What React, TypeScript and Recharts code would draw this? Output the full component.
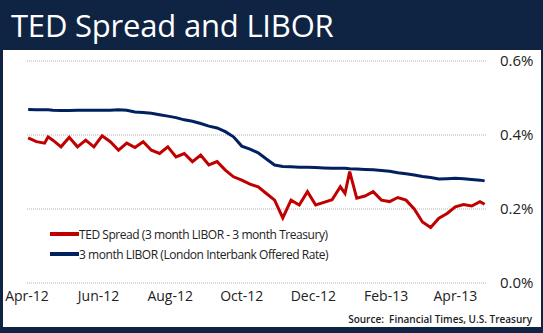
import { LineChart, Line, XAxis, YAxis, CartesianGrid } from 'recharts';

const DATES = [
  '2012-04-02', '2012-04-09', '2012-04-16', '2012-04-19', '2012-04-23', '2012-04-30',
  '2012-05-07', '2012-05-14', '2012-05-21', '2012-05-28', '2012-06-04', '2012-06-11',
  '2012-06-18', '2012-06-25', '2012-07-02', '2012-07-09', '2012-07-16', '2012-07-23',
  '2012-07-30', '2012-08-06', '2012-08-13', '2012-08-20', '2012-08-27', '2012-09-03',
  '2012-09-10', '2012-09-17', '2012-09-24', '2012-10-01', '2012-10-08', '2012-10-15',
  '2012-10-22', '2012-10-29', '2012-11-05', '2012-11-12', '2012-11-19', '2012-11-26',
  '2012-12-03', '2012-12-10', '2012-12-17', '2012-12-24', '2012-12-28', '2013-01-01',
  '2013-01-07', '2013-01-14', '2013-01-21', '2013-01-28', '2013-02-04', '2013-02-11',
  '2013-02-18', '2013-02-25', '2013-03-04', '2013-03-11', '2013-03-18', '2013-03-25',
  '2013-04-01', '2013-04-08', '2013-04-15', '2013-04-22', '2013-04-26',
];

// percent values
const TED = [
  0.392, 0.382, 0.378, 0.395, 0.386, 0.368,
  0.394, 0.368, 0.386, 0.368, 0.398, 0.382,
  0.359, 0.378, 0.366, 0.382, 0.359, 0.350,
  0.368, 0.341, 0.350, 0.328, 0.346, 0.319,
  0.328, 0.305, 0.287, 0.278, 0.267, 0.260,
  0.242, 0.224, 0.176, 0.224, 0.211, 0.247,
  0.211, 0.218, 0.225, 0.260, 0.242, 0.301,
  0.229, 0.235, 0.247, 0.224, 0.220, 0.231,
  0.224, 0.200, 0.165, 0.150, 0.175, 0.188,
  0.206, 0.212, 0.208, 0.220, 0.213,
];

const LIBOR = [
  0.469, 0.468, 0.468, 0.468, 0.467, 0.466,
  0.466, 0.467, 0.467, 0.467, 0.467, 0.467,
  0.468, 0.467, 0.462, 0.461, 0.459, 0.455,
  0.451, 0.447, 0.441, 0.437, 0.431, 0.424,
  0.419, 0.409, 0.395, 0.370, 0.362, 0.352,
  0.335, 0.319, 0.315, 0.314, 0.313, 0.313,
  0.312, 0.311, 0.310, 0.310, 0.310, 0.309,
  0.308, 0.307, 0.306, 0.304, 0.302, 0.298,
  0.295, 0.292, 0.288, 0.285, 0.281, 0.282,
  0.283, 0.282, 0.280, 0.278, 0.276,
];

const TICK_DATES = ['2012-04-01', '2012-06-01', '2012-08-01', '2012-10-01', '2012-12-01', '2013-02-01', '2013-04-01'];
const TICK_LABELS = ['Apr-12', 'Jun-12', 'Aug-12', 'Oct-12', 'Dec-12', 'Feb-13', 'Apr-13'];
const Y_TICKS = [0, 0.2, 0.4, 0.6];

const START = Date.UTC(2012, 3, 1);
const toDay = (s: string) => {
  const [y, m, d] = s.split('-').map(Number);
  return Math.round((Date.UTC(y, m - 1, d) - START) / 86400000);
};

const data = DATES.map((d, i) => ({ day: toDay(d), ted: TED[i], libor: LIBOR[i] }));
const xTicks = TICK_DATES.map(toDay);

const RED = '#c00000';
const BLUE = '#002060';
const FONT = '"Open Sans", Calibri, sans-serif';

function LegendBox() {
  const row = (color: string, text: string) => (
    <div style={{ display: 'flex', alignItems: 'center', height: 20 }}>
      <div style={{ width: 29, height: 4, background: color }} />
      <span style={{ fontSize: 12, color: '#222', letterSpacing: -0.45 }}>{text}</span>
    </div>
  );
  return (
    <div style={{ position: 'absolute', left: 50, top: 224, fontFamily: FONT, whiteSpace: 'nowrap' }}>
      {row(RED, 'TED Spread (3 month LIBOR - 3 month Treasury)')}
      {row(BLUE, '3 month LIBOR (London Interbank Offered Rate)')}
    </div>
  );
}

export default function App() {
  return (
    <div style={{ position: 'relative', width: 543, height: 333, background: '#0f2443', fontFamily: FONT }}>
      <style>{'body{margin:0}'}</style>
      <div style={{ position: 'absolute', left: 11, top: 4, color: '#fff', fontSize: 31, letterSpacing: -0.2 }}>
        TED Spread and LIBOR
      </div>
      <div style={{ position: 'absolute', left: 3, top: 50, width: 538, height: 277, background: '#fff' }} />
      <div style={{ position: 'absolute', left: 0, top: 0 }}>
        <LineChart width={543} height={333} data={data} margin={{ top: 61, right: 0, left: 27, bottom: 20 }}>
          <CartesianGrid vertical={false} stroke="#b0b0b0" strokeDasharray="1 1" />
          <XAxis
            dataKey="day" type="number" domain={[0, 392]} ticks={xTicks}
            tickFormatter={(v: number) => TICK_LABELS[xTicks.indexOf(v)] ?? ''}
            tick={{ fill: '#222', fontSize: 14 }} tickLine={false} axisLine={false}
            interval={0} allowDataOverflow height={30}
          />
          <YAxis
            orientation="right" domain={[0, 0.6]} ticks={Y_TICKS} width={56}
            tickFormatter={(v: number) => `${v.toFixed(1)}%`}
            tick={{ fill: '#222', fontSize: 15 }} tickLine={false} axisLine={false} tickMargin={7}
          />
          <Line
            type="linear" dataKey="libor" stroke={BLUE} strokeWidth={3}
            dot={false} isAnimationActive={false}
          />
          <Line
            type="linear" dataKey="ted" stroke={RED} strokeWidth={3}
            dot={false} isAnimationActive={false}
          />
        </LineChart>
      </div>
      <LegendBox />
      <div style={{ position: 'absolute', right: 11, top: 312, fontSize: 10, color: '#222', fontWeight: 600 }}>
        Source:&nbsp; Financial Times, U.S. Treasury
      </div>
    </div>
  );
}
